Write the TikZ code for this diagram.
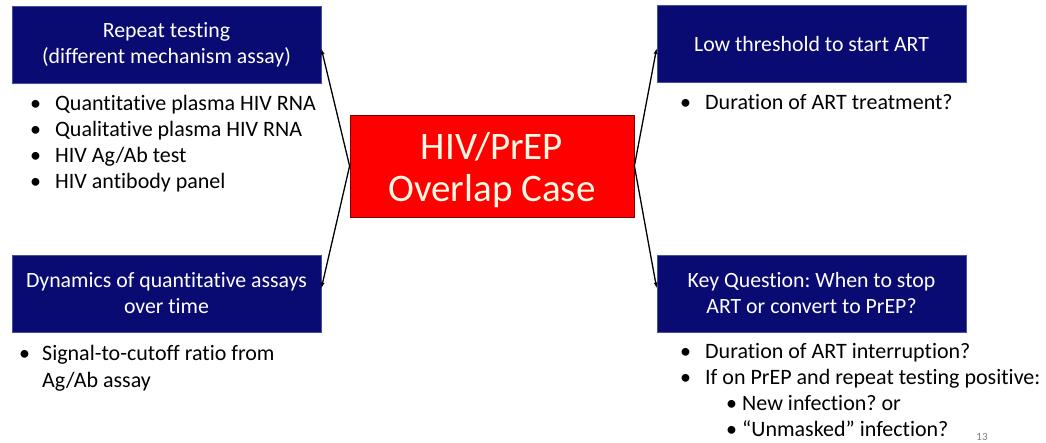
\documentclass[tikz,border=0pt]{standalone}
\usepackage{xcolor}
\usepackage{fontspec}
\setmainfont{Carlito}[Ligatures=NoCommon]
\usepackage{tikz}
\usetikzlibrary{arrows.meta,positioning}

\definecolor{navybox}{RGB}{10,10,115}
\definecolor{navyedge}{RGB}{70,80,160}
\definecolor{hubred}{RGB}{255,0,0}
\definecolor{hubedge}{RGB}{120,0,0}
\definecolor{hubtext}{RGB}{255,250,228}

\newcommand{\bul}[1]{\makebox[#1][l]{•}}

\begin{document}
\frenchspacing
\begin{tikzpicture}[x=1pt,y=-1pt,
        topic/.style={draw=navyedge, line width=0.6pt, fill=navybox, text=white,
            minimum width=309pt, minimum height=77pt, align=center, inner sep=0pt,
            font=\fontsize{21.8}{26}\selectfont},
        hub/.style={draw=hubedge, line width=0.8pt, fill=hubred,
            minimum width=284pt, minimum height=102pt, inner sep=0pt},
        hubtitle/.style={text=hubtext, align=center, inner sep=0pt,
            font=\fontsize{39}{42}\selectfont},
        items/.style={anchor=base west, align=left, inner sep=0pt,
            font=\fontsize{22}{26.3}\selectfont},
        link/.style={-{Latex[length=6pt,width=4pt]}, line width=1.3pt}]
    \useasboundingbox (0,0) rectangle (1046,443);
    % hub and the four topics
    \node [hub] (hub) at (492,166) {};
    \node [hubtitle] (hubText) at ([yshift=-4pt]hub.center) {HIV/PrEP\\Overlap Case};
    \node [topic] (tl) at (166.5,44.5) {Repeat testing\\(different mechanism assay)};
    \node [topic] (tr) at (811.5,44) {Low threshold to start ART};
    \node [topic] (bl) at (166.5,293.5) {Dynamics of quantitative assays\\over time};
    \node [topic] (br) at (811.5,293.5) {Key Question: When to stop\\ART or convert to PrEP?};
    % bullet lists (anchored at the baseline of their last line)
    \node [items] (tlList) at (30,189) {\bul{25pt}Quantitative plasma HIV RNA\\
        \bul{25pt}Qualitative plasma HIV RNA\\
        \bul{25pt}HIV Ag/Ab test\\
        \bul{25pt}HIV antibody panel};
    \node [items, font=\fontsize{22}{27}\selectfont] (blList) at (19,387)
        {\bul{23pt}Signal-to-cutoff ratio from\\\hspace*{23pt}Ag/Ab assay};
    \node [items] (trList) at (680,110) {\bul{25pt}Duration of ART treatment?};
    \node [items, font=\fontsize{22}{26}\selectfont] (brList) at (680,436)
        {\bul{25pt}Duration of ART interruption?\\
        \bul{25pt}If on PrEP and repeat testing positive:\\
        \hspace*{46pt}\bul{16pt}New infection? or\\
        \hspace*{46pt}\bul{16pt}“Unmasked” infection?};
    \node [text=gray, font=\fontsize{11}{11}\selectfont] (page) at (982,437) {13};
    % connectors
    \draw [link] (hub.west) -- ([yshift=-4pt]tl.east);
    \draw [link] (hub.west) -- ([yshift=5pt]bl.east);
    \draw [link] (hub.east) -- ([yshift=-4pt]tr.west);
    \draw [link] (hub.east) -- ([yshift=5pt]br.west);
\end{tikzpicture}
\end{document}
